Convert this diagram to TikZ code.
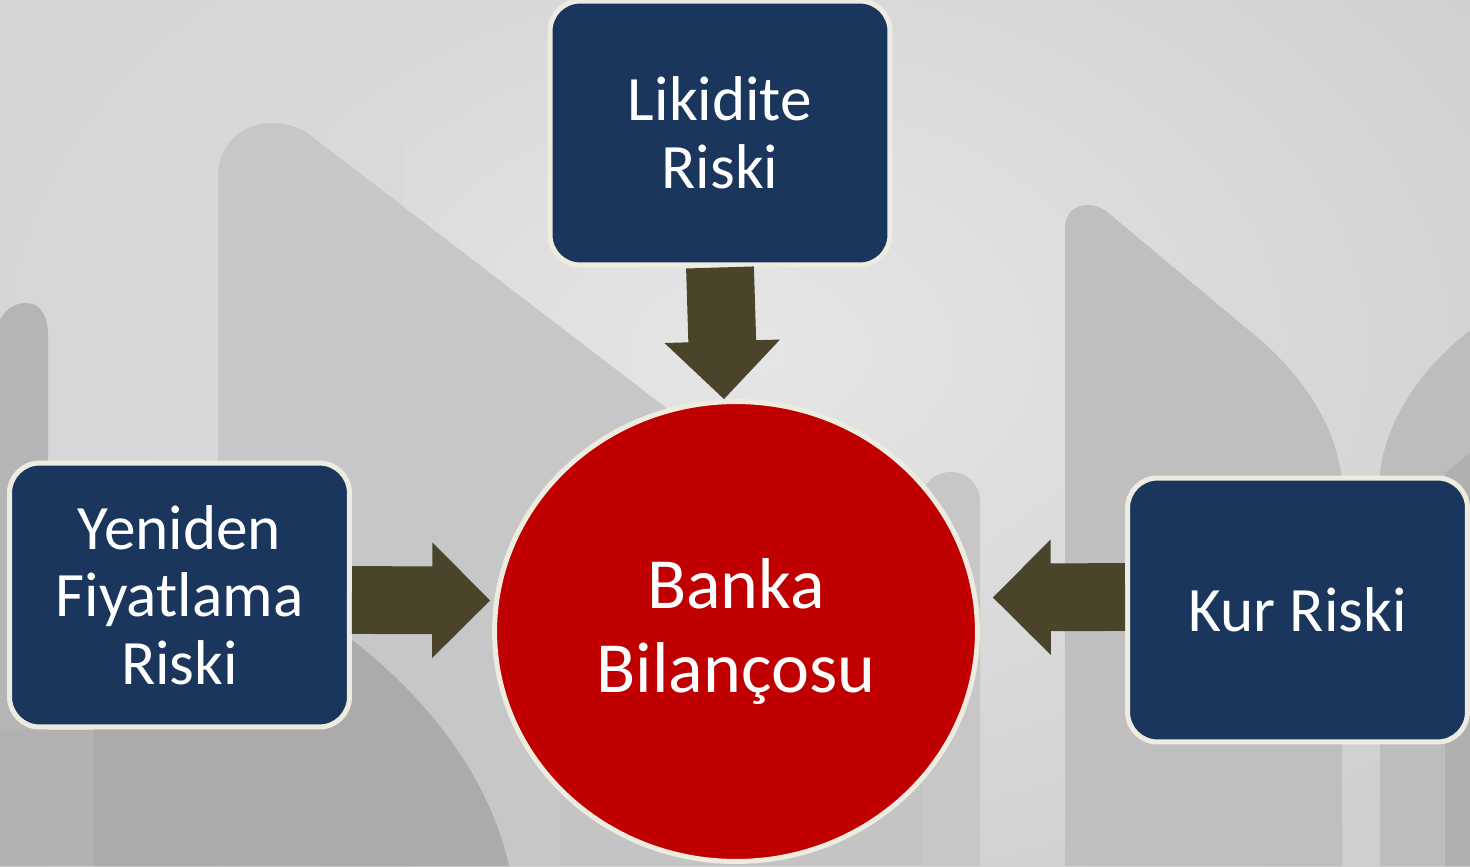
\documentclass[tikz,border=0pt]{standalone}
\usepackage{fontspec}
\setmainfont{Carlito}
\usetikzlibrary{shapes.geometric,calc}
\definecolor{boxblue}{HTML}{1A365D}
\definecolor{rimc}{HTML}{EEECE1}
\definecolor{redc}{HTML}{C00000}
\definecolor{arrowc}{HTML}{4A452A}
\begin{document}
\begin{tikzpicture}[x=0.02cm,y=-0.02cm,
  riskbox/.style={draw=rimc, line width=0.1cm, fill=boxblue, rounded corners=0.6cm,
    minimum width=6.8cm, minimum height=5.28cm, inner sep=0pt, align=center,
    text=white, font=\fontsize{36}{38.5}\selectfont},
  centerdisc/.style={ellipse, draw=rimc, line width=0.1cm, fill=redc,
    minimum width=9.66cm, minimum height=9.2cm, inner sep=0pt, align=center,
    text=white, font=\fontsize{41}{48}\selectfont},
  blockarrow/.style={fill=arrowc, to path={
    ($(\tikztostart)!19.3pt!90:(\tikztotarget)$)
    -- ($($(\tikztotarget)!32.9pt!(\tikztostart)$)!19.3pt!90:(\tikztotarget)$)
    -- ($($(\tikztotarget)!32.9pt!(\tikztostart)$)!32.9pt!90:(\tikztotarget)$)
    -- (\tikztotarget)
    -- ($($(\tikztotarget)!32.9pt!(\tikztostart)$)!32.9pt!-90:(\tikztotarget)$)
    -- ($($(\tikztotarget)!32.9pt!(\tikztostart)$)!19.3pt!-90:(\tikztotarget)$)
    -- ($(\tikztostart)!19.3pt!-90:(\tikztotarget)$) -- cycle}},
  bgshape/.style={draw=none}
]
\useasboundingbox (0,0) rectangle (1470,866);
\begin{scope}
\clip (0,0) rectangle (1470,866);
% base background
\shade[inner color=black!10, outer color=black!19] (-200,-300) rectangle (1700,1000);
\fill[black!15, opacity=0.6] (0,0) rectangle (404,866);
% big left arch
\fill[bgshape, fill=black!22] (218,866) -- (218,175) .. controls (218,145) and (242,123) .. (272,123)
  .. controls (285,123) and (295,126) .. (306,132) -- (665,407) -- (800,600) -- (800,866) -- cycle;
% left pillar
\fill[bgshape, fill=black!29] (0,866) -- (0,320) .. controls (6,308) and (16,303) .. (26,303)
  .. controls (40,303) and (48,315) .. (48,335) -- (48,866) -- cycle;
% lower left dark block
\fill[bgshape, fill=black!33] (94,866) -- (94,640) -- (352,640)
  .. controls (430,700) and (490,780) .. (509,866) -- cycle;
\fill[bgshape, fill=black!30] (0,730) rectangle (94,866);
% lower middle
\fill[bgshape, fill=black!23] (560,700) rectangle (922,866);
% small pillar behind disc
\fill[bgshape, fill=black!22] (922,866) -- (922,500) .. controls (922,483) and (935,472) .. (951,472)
  .. controls (968,472) and (980,485) .. (980,502) -- (980,866) -- cycle;
% right arch
\fill[bgshape, fill=black!25] (1065,866) -- (1065,228) .. controls (1065,214) and (1074,205) .. (1088,205)
  .. controls (1095,205) and (1100,207) .. (1106,211) -- (1264,343)
  .. controls (1310,385) and (1336,430) .. (1342,480) -- (1342,866) -- cycle;
% far right shape
\fill[bgshape, fill=black!26] (1470,330) .. controls (1420,370) and (1386,420) .. (1380,473)
  -- (1380,866) -- (1470,866) -- cycle;
\fill[bgshape, fill=black!31] (1445,473) -- (1470,453) -- (1470,866) -- (1445,866) -- cycle;
\end{scope}

% nodes
\node[riskbox] (lik) at (720,133) {Likidite\\Riski};
\node[riskbox] (yen) at (179.5,595) {Yeniden\\Fiyatlama\\Riski};
\node[riskbox] (kur) at (1297.5,610) {Kur Riski};
\node[centerdisc] (ban) at (736,631.5) {Banka\\Bilançosu};

% block arrows
\fill[blockarrow] (lik.south) to ([xshift=-0.24cm]ban.north);
\fill[blockarrow] ([yshift=-0.1cm]yen.east) to ([xshift=-0.04cm,yshift=0.62cm]ban.west);
\fill[blockarrow] ([yshift=0.26cm]kur.west) to ([xshift=0.26cm,yshift=0.68cm]ban.east);
\end{tikzpicture}
\end{document}
